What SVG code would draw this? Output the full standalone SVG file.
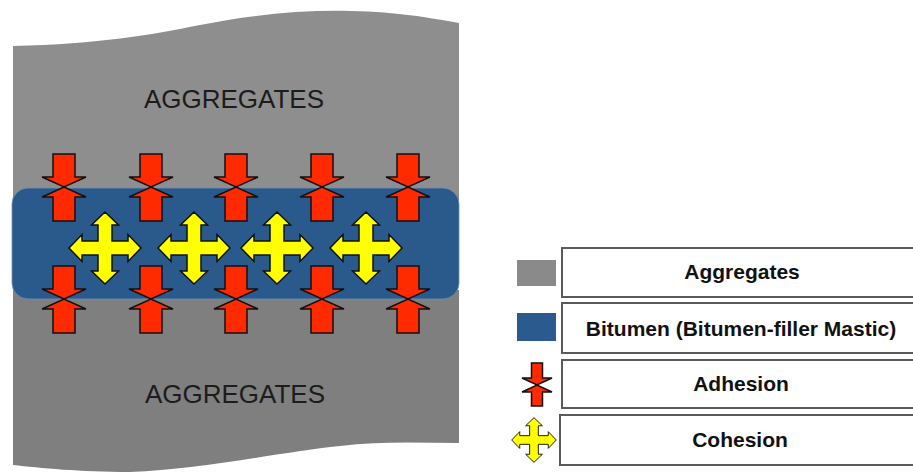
<svg xmlns="http://www.w3.org/2000/svg" width="913" height="472" viewBox="0 0 913 472">
<style>
.agg{font-family:"Liberation Sans",Arial,sans-serif;font-size:26px;fill:#1c1c1c;text-anchor:middle}
.lg{font-family:"Liberation Sans",Arial,sans-serif;font-size:21px;font-weight:bold;fill:#111;text-anchor:middle}
.box{fill:#fff;stroke:#5a5a5a;stroke-width:2}
.red{fill:#ff2a00;stroke:#111;stroke-width:1.5;stroke-linejoin:miter}
.yel{fill:#ffff00;stroke:#111;stroke-width:1.5;stroke-linejoin:miter}
</style>
<defs>
<g id="adh">
<path class="red" d="M-11,-33 L11,-33 L11,-10 L22,-10 L0,0 L-22,-10 L-11,-10 Z"/>
<path class="red" d="M-11,34 L11,34 L11,10 L22,10 L0,0 L-22,10 L-11,10 Z"/>
</g>
<g id="adh-small">
<path class="red" d="M-5.5,-22 L5.5,-22 L5.5,-7 L15,-7 L0,0 L-15,-7 L-5.5,-7 Z"/>
<path class="red" d="M-5.5,21 L5.5,21 L5.5,7 L15,7 L0,0 L-15,7 L-5.5,7 Z"/>
</g>
<path id="coh" class="yel" d="M-7,-7 L-7,-23 L-13.5,-23 L0,-36 L13.5,-23 L7,-23 L7,-7 L23,-7 L23,-13.5 L36,0 L23,13.5 L23,7 L7,7 L7,23 L13.5,23 L0,36 L-13.5,23 L-7,23 L-7,7 L-23,7 L-23,13.5 L-36,0 L-23,-13.5 L-23,-7 Z"/>
</defs>
<g id="aggregates-top">
<path d="M13,46 C100,44 150,35 200,25 C250,15 300,10 350,11 C400,12 430,18 459,23 L459,200 L13,200 Z" fill="#8e8e8e"/>
<text class="agg" x="234" y="108">AGGREGATES</text>
</g>
<g id="aggregates-bottom">
<path d="M13,290 L459,290 L459,443 C420,443 380,441 340,446 C280,452 200,470 130,472 C80,472 40,468 13,465 Z" fill="#7f7f7f"/>
<text class="agg" x="235" y="403">AGGREGATES</text>
</g>
<g id="bitumen">
<rect x="12" y="188" width="447" height="111" rx="16" fill="#2a5a8c" stroke="#6f8fb0" stroke-width="0.8"/>
</g>
<g id="adhesion-top">
<use href="#adh" x="64" y="187"/>
<use href="#adh" x="151" y="187"/>
<use href="#adh" x="236" y="187"/>
<use href="#adh" x="322" y="187"/>
<use href="#adh" x="408" y="187"/>
</g>
<g id="adhesion-bottom">
<use href="#adh" x="64" y="299"/>
<use href="#adh" x="151" y="299"/>
<use href="#adh" x="236" y="299"/>
<use href="#adh" x="322" y="299"/>
<use href="#adh" x="408" y="299"/>
</g>
<g id="cohesion">
<use href="#coh" x="105" y="248"/>
<use href="#coh" x="194" y="248"/>
<use href="#coh" x="277" y="248"/>
<use href="#coh" x="366" y="248"/>
</g>
<g id="legend-aggregates">
<rect x="517" y="260" width="39" height="26" fill="#8a8a8a"/>
<rect class="box" x="562" y="248" width="380" height="49"/>
<text class="lg" x="742" y="279">Aggregates</text>
</g>
<g id="legend-bitumen">
<rect x="517" y="313" width="39" height="28" fill="#2b5b8e"/>
<rect class="box" x="562" y="303" width="380" height="50"/>
<text class="lg" x="741" y="336">Bitumen (Bitumen-filler Mastic)</text>
</g>
<g id="legend-adhesion">
<use href="#adh-small" x="537" y="385"/>
<rect class="box" x="562" y="360" width="380" height="48"/>
<text class="lg" x="741" y="391">Adhesion</text>
</g>
<g id="legend-cohesion">
<use href="#coh" transform="translate(534,440) scale(0.62)"/>
<rect class="box" x="560" y="415" width="380" height="50"/>
<text class="lg" x="740" y="447">Cohesion</text>
</g>
<g id="connectors"/>
</svg>
